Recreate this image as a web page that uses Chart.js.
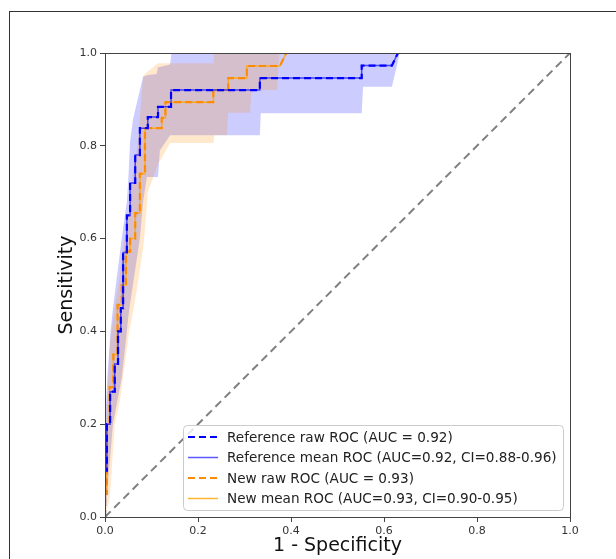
<!DOCTYPE html>
<html>
<head>
<meta charset="utf-8">
<script src="https://cdn.jsdelivr.net/npm/chart.js@4.4.0/dist/chart.umd.min.js"></script>
<style>
  html, body { margin: 0; padding: 0; background: #fff; }
  canvas { display: block; }
</style>
</head>
<body>
<canvas id="roc" width="616" height="559"></canvas>
<script>
/* --------------- Data ----------------------------------------- */
const tickValues = [0, 0.2, 0.4, 0.6, 0.8, 1.0];

const labels = [
    "Reference raw ROC (AUC = 0.92)",
    "Reference mean ROC (AUC=0.92, CI=0.88-0.96)",
    "New raw ROC (AUC = 0.93)",
    "New mean ROC (AUC=0.93, CI=0.90-0.95)",
];

// reference model, raw ROC (step vertices)
const refFpr = [0, 0, 0.004, 0.004, 0.011, 0.011, 0.021, 0.021, 0.028, 0.028, 0.034, 0.034, 0.039, 0.039, 0.047, 0.047,
    0.054, 0.054, 0.065, 0.065, 0.075, 0.075, 0.092, 0.092, 0.114, 0.114, 0.142, 0.142, 0.333, 0.333, 0.552, 0.552, 0.617, 0.63, 1.0];
const refTpr = [0, 0.1, 0.1, 0.2, 0.2, 0.27, 0.27, 0.33, 0.33, 0.4, 0.4, 0.45, 0.45, 0.57, 0.57, 0.65,
    0.65, 0.72, 0.72, 0.78, 0.78, 0.838, 0.838, 0.862, 0.862, 0.884, 0.884, 0.92, 0.92, 0.946, 0.946, 0.973, 0.973, 1.0, 1.0];

// new model, raw ROC
const newFpr = [0, 0, 0.004, 0.004, 0.01, 0.01, 0.018, 0.018, 0.027, 0.027, 0.036, 0.036, 0.045, 0.045, 0.054, 0.054,
    0.065, 0.065, 0.075, 0.075, 0.086, 0.086, 0.122, 0.122, 0.13, 0.13, 0.233, 0.233, 0.265, 0.265, 0.305, 0.305, 0.376, 0.39, 1.0];
const newTpr = [0, 0.05, 0.05, 0.2, 0.2, 0.28, 0.28, 0.35, 0.35, 0.457, 0.457, 0.5, 0.5, 0.572, 0.572, 0.6,
    0.6, 0.655, 0.655, 0.74, 0.74, 0.838, 0.838, 0.86, 0.86, 0.894, 0.894, 0.92, 0.92, 0.946, 0.946, 0.972, 0.972, 1.0, 1.0];

// mean ROC curves sit on top of the raw ones
const refMeanFpr = refFpr;
const refMeanTpr = refTpr;
const newMeanFpr = newFpr;
const newMeanTpr = newTpr;

// confidence bands
const refBandFpr = [0, 0.005, 0.012, 0.017, 0.036, 0.047, 0.05, 0.054, 0.06, 0.075, 0.082, 0.09, 0.111, 0.114, 0.118,
    0.14, 0.143, 0.333, 0.335, 0.552, 0.555, 0.617, 0.634, 1.0];
const refUpper = [0.2, 0.3, 0.4, 0.45, 0.6, 0.68, 0.726, 0.81, 0.856, 0.92, 0.949, 0.952, 0.955, 0.97, 0.97,
    0.975, 1.0, 1.0, 1.0, 1.0, 1.0, 1.0, 1.0, 1.0];
const refLower = [0, 0.06, 0.14, 0.2, 0.3, 0.4, 0.43, 0.46, 0.5, 0.6, 0.68, 0.733, 0.733, 0.733, 0.79,
    0.823, 0.823, 0.823, 0.87, 0.87, 0.927, 0.927, 1.0, 1.0];

const newBandFpr = [0, 0.01, 0.011, 0.021, 0.032, 0.036, 0.052, 0.06, 0.07, 0.082, 0.086, 0.092, 0.114, 0.14,
    0.233, 0.235, 0.262, 0.265, 0.312, 0.315, 0.37, 0.375, 1.0];
const newUpper = [0.15, 0.36, 0.38, 0.45, 0.52, 0.56, 0.66, 0.74, 0.8, 0.95, 0.955, 0.96, 0.978, 0.978,
    0.978, 1.0, 1.0, 1.0, 1.0, 1.0, 1.0, 1.0, 1.0];
const newLower = [0, 0.04, 0.05, 0.2, 0.25, 0.28, 0.4, 0.44, 0.5, 0.58, 0.62, 0.7, 0.76, 0.806,
    0.806, 0.823, 0.823, 0.871, 0.871, 0.92, 0.92, 1.0, 1.0];

const diagFpr = [0, 1];
const diagTpr = [0, 1];

/* --------------- Helpers --------------------- */
const pts = (xs, ys) => xs.map((x, i) => ({ x: x, y: ys[i] }));

const band = (xs, ys, color, fill, order) => ({
    data: pts(xs, ys),
    borderWidth: 0,
    pointRadius: 0,
    backgroundColor: color,
    fill: fill,
    order: order,
});

/* --------------- Frame, spines and legend --------------------- */
const framePlugin = {
    id: "frame",
    beforeDraw(chart) {
        const ctx = chart.ctx;
        ctx.save();
        ctx.fillStyle = "#fff";
        ctx.fillRect(0, 0, chart.width, chart.height);
        ctx.strokeStyle = "#333";
        ctx.lineWidth = 1;
        ctx.strokeRect(9.5, 11.5, 800, 800);
        ctx.restore();
    },
    afterDraw(chart) {
        const ctx = chart.ctx;
        const a = chart.chartArea;
        ctx.save();
        ctx.strokeStyle = "#444";
        ctx.lineWidth = 1;
        ctx.strokeRect(a.left + 0.5, a.top + 0.5, a.right - a.left, a.bottom - a.top);

        // legend box
        const bx = 183, by = 425, bw = 380, bh = 85;
        ctx.fillStyle = "rgba(255,255,255,0.8)";
        ctx.strokeStyle = "#cccccc";
        ctx.beginPath();
        ctx.roundRect(bx + 0.5, by + 0.5, bw, bh, 4);
        ctx.fill();
        ctx.stroke();

        const items = chart.data.datasets.filter(d => d.label);
        ctx.font = "13.6px 'DejaVu Sans'";
        ctx.textBaseline = "middle";
        items.forEach((d, i) => {
            const y = by + 12 + i * 20.5;
            ctx.strokeStyle = d.borderColor;
            ctx.lineWidth = d.borderWidth;
            ctx.setLineDash(d.borderDash || []);
            ctx.beginPath();
            ctx.moveTo(bx + 5, y);
            ctx.lineTo(bx + 35, y);
            ctx.stroke();
            ctx.setLineDash([]);
            ctx.fillStyle = "#222";
            ctx.fillText(d.label, bx + 44, y + 1);
        });
        ctx.restore();
    },
};

/* --------------- Chart --------------------- */
const tickFont = { family: "'DejaVu Sans'", size: 11 };
const titleFont = { family: "'DejaVu Sans'", size: 19 };

new Chart(document.getElementById("roc"), {
    type: "line",
    plugins: [framePlugin],
    data: {
        datasets: [
            {
                label: labels[0],
                data: pts(refFpr, refTpr),
                borderColor: "#0000ff",
                borderWidth: 2.2,
                borderDash: [7, 4],
                pointRadius: 0,
                fill: false,
                order: 0,
            },
            {
                label: labels[1],
                data: pts(refMeanFpr, refMeanTpr),
                borderColor: "rgba(0,0,255,0.65)",
                borderWidth: 1.5,
                pointRadius: 0,
                fill: false,
                order: 1,
            },
            {
                label: labels[2],
                data: pts(newFpr, newTpr),
                borderColor: "#ff8c00",
                borderWidth: 2.2,
                borderDash: [7, 4],
                pointRadius: 0,
                fill: false,
                order: 2,
            },
            {
                label: labels[3],
                data: pts(newMeanFpr, newMeanTpr),
                borderColor: "rgba(255,165,0,0.8)",
                borderWidth: 1.5,
                pointRadius: 0,
                fill: false,
                order: 3,
            },
            {
                data: pts(diagFpr, diagTpr),
                borderColor: "#808080",
                borderWidth: 2,
                borderDash: [8, 5],
                pointRadius: 0,
                fill: false,
                order: 4,
            },
            band(refBandFpr, refUpper, "rgba(0,0,255,0.2)", "+1", 8),
            band(refBandFpr, refLower, "rgba(0,0,0,0)", false, 8),
            band(newBandFpr, newUpper, "rgba(255,140,0,0.2)", "+1", 6),
            band(newBandFpr, newLower, "rgba(0,0,0,0)", false, 6),
        ],
    },
    options: {
        responsive: false,
        devicePixelRatio: 1,
        animation: false,
        layout: { padding: { top: 53, right: 46, left: 52, bottom: 0 } },
        plugins: {
            legend: { display: false },
            tooltip: { enabled: false },
        },
        scales: {
            x: {
                type: "linear",
                min: 0,
                max: 1,
                afterFit: (s) => { s.height = 42; },
                afterBuildTicks: (s) => { s.ticks = tickValues.map(v => ({ value: v })); },
                ticks: { font: tickFont, color: "#333", padding: 3, callback: (v) => v.toFixed(1), maxRotation: 0 },
                grid: { drawOnChartArea: false, tickLength: 5, color: "#444" },
                border: { display: true, color: "#444" },
                title: { display: true, text: "1 - Specificity", font: titleFont, color: "#111", padding: { top: 0, bottom: 2 } },
            },
            y: {
                type: "linear",
                min: 0,
                max: 1,
                afterFit: (s) => { s.width = 53; },
                afterBuildTicks: (s) => { s.ticks = tickValues.map(v => ({ value: v })); },
                ticks: { font: tickFont, color: "#333", padding: 3, callback: (v) => v.toFixed(1) },
                grid: { drawOnChartArea: false, tickLength: 5, color: "#444" },
                border: { display: true, color: "#444" },
                title: { display: true, text: "Sensitivity", font: titleFont, color: "#111", padding: { top: 4, bottom: 4 } },
            },
        },
    },
});
</script>
</body>
</html>
